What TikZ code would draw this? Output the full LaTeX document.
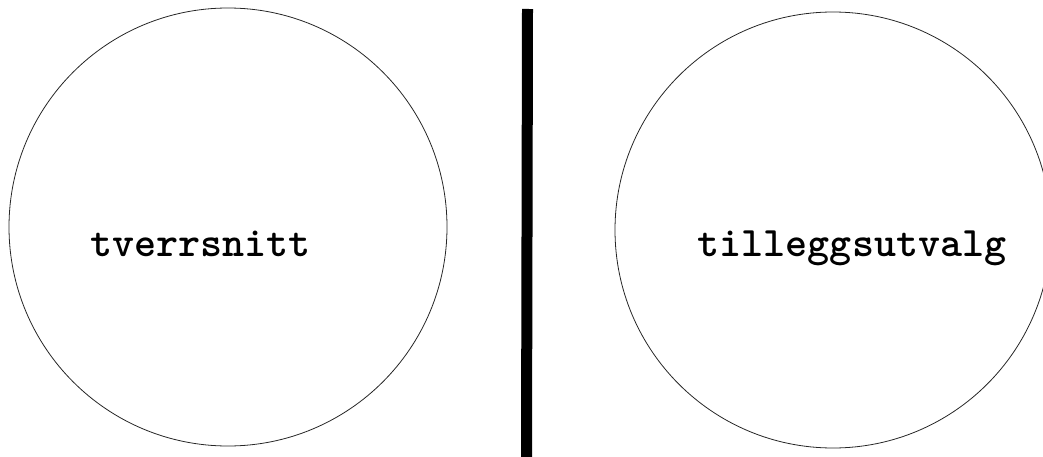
\documentclass[tikz,border=0pt]{standalone}
\usepackage{fontspec}
\begin{document}
\begin{tikzpicture}[x=1pt,y=-1pt,
  ring/.style={circle,draw=black!85,line width=0.8pt,inner sep=0pt},
  label/.style={font=\ttfamily\bfseries\fontsize{42}{46}\selectfont,anchor=base,inner sep=0pt}]
\useasboundingbox (0,0) rectangle (1043,457);
\clip (0,0) rectangle (1043,457);
\node[ring,minimum size=438pt] (left) at (228,227) {};
\node[ring,minimum size=436pt] (right) at (833,230) {};
\node[label] (lt) at (200.5,256) {tverrsnitt};
\node[label] (rt) at (852,256) {tilleggsutvalg};
\coordinate (bartop) at (527.5,9);
\coordinate (barbot) at (526.5,457);
\draw[line width=11pt] (bartop) -- (barbot);
\end{tikzpicture}
\end{document}
